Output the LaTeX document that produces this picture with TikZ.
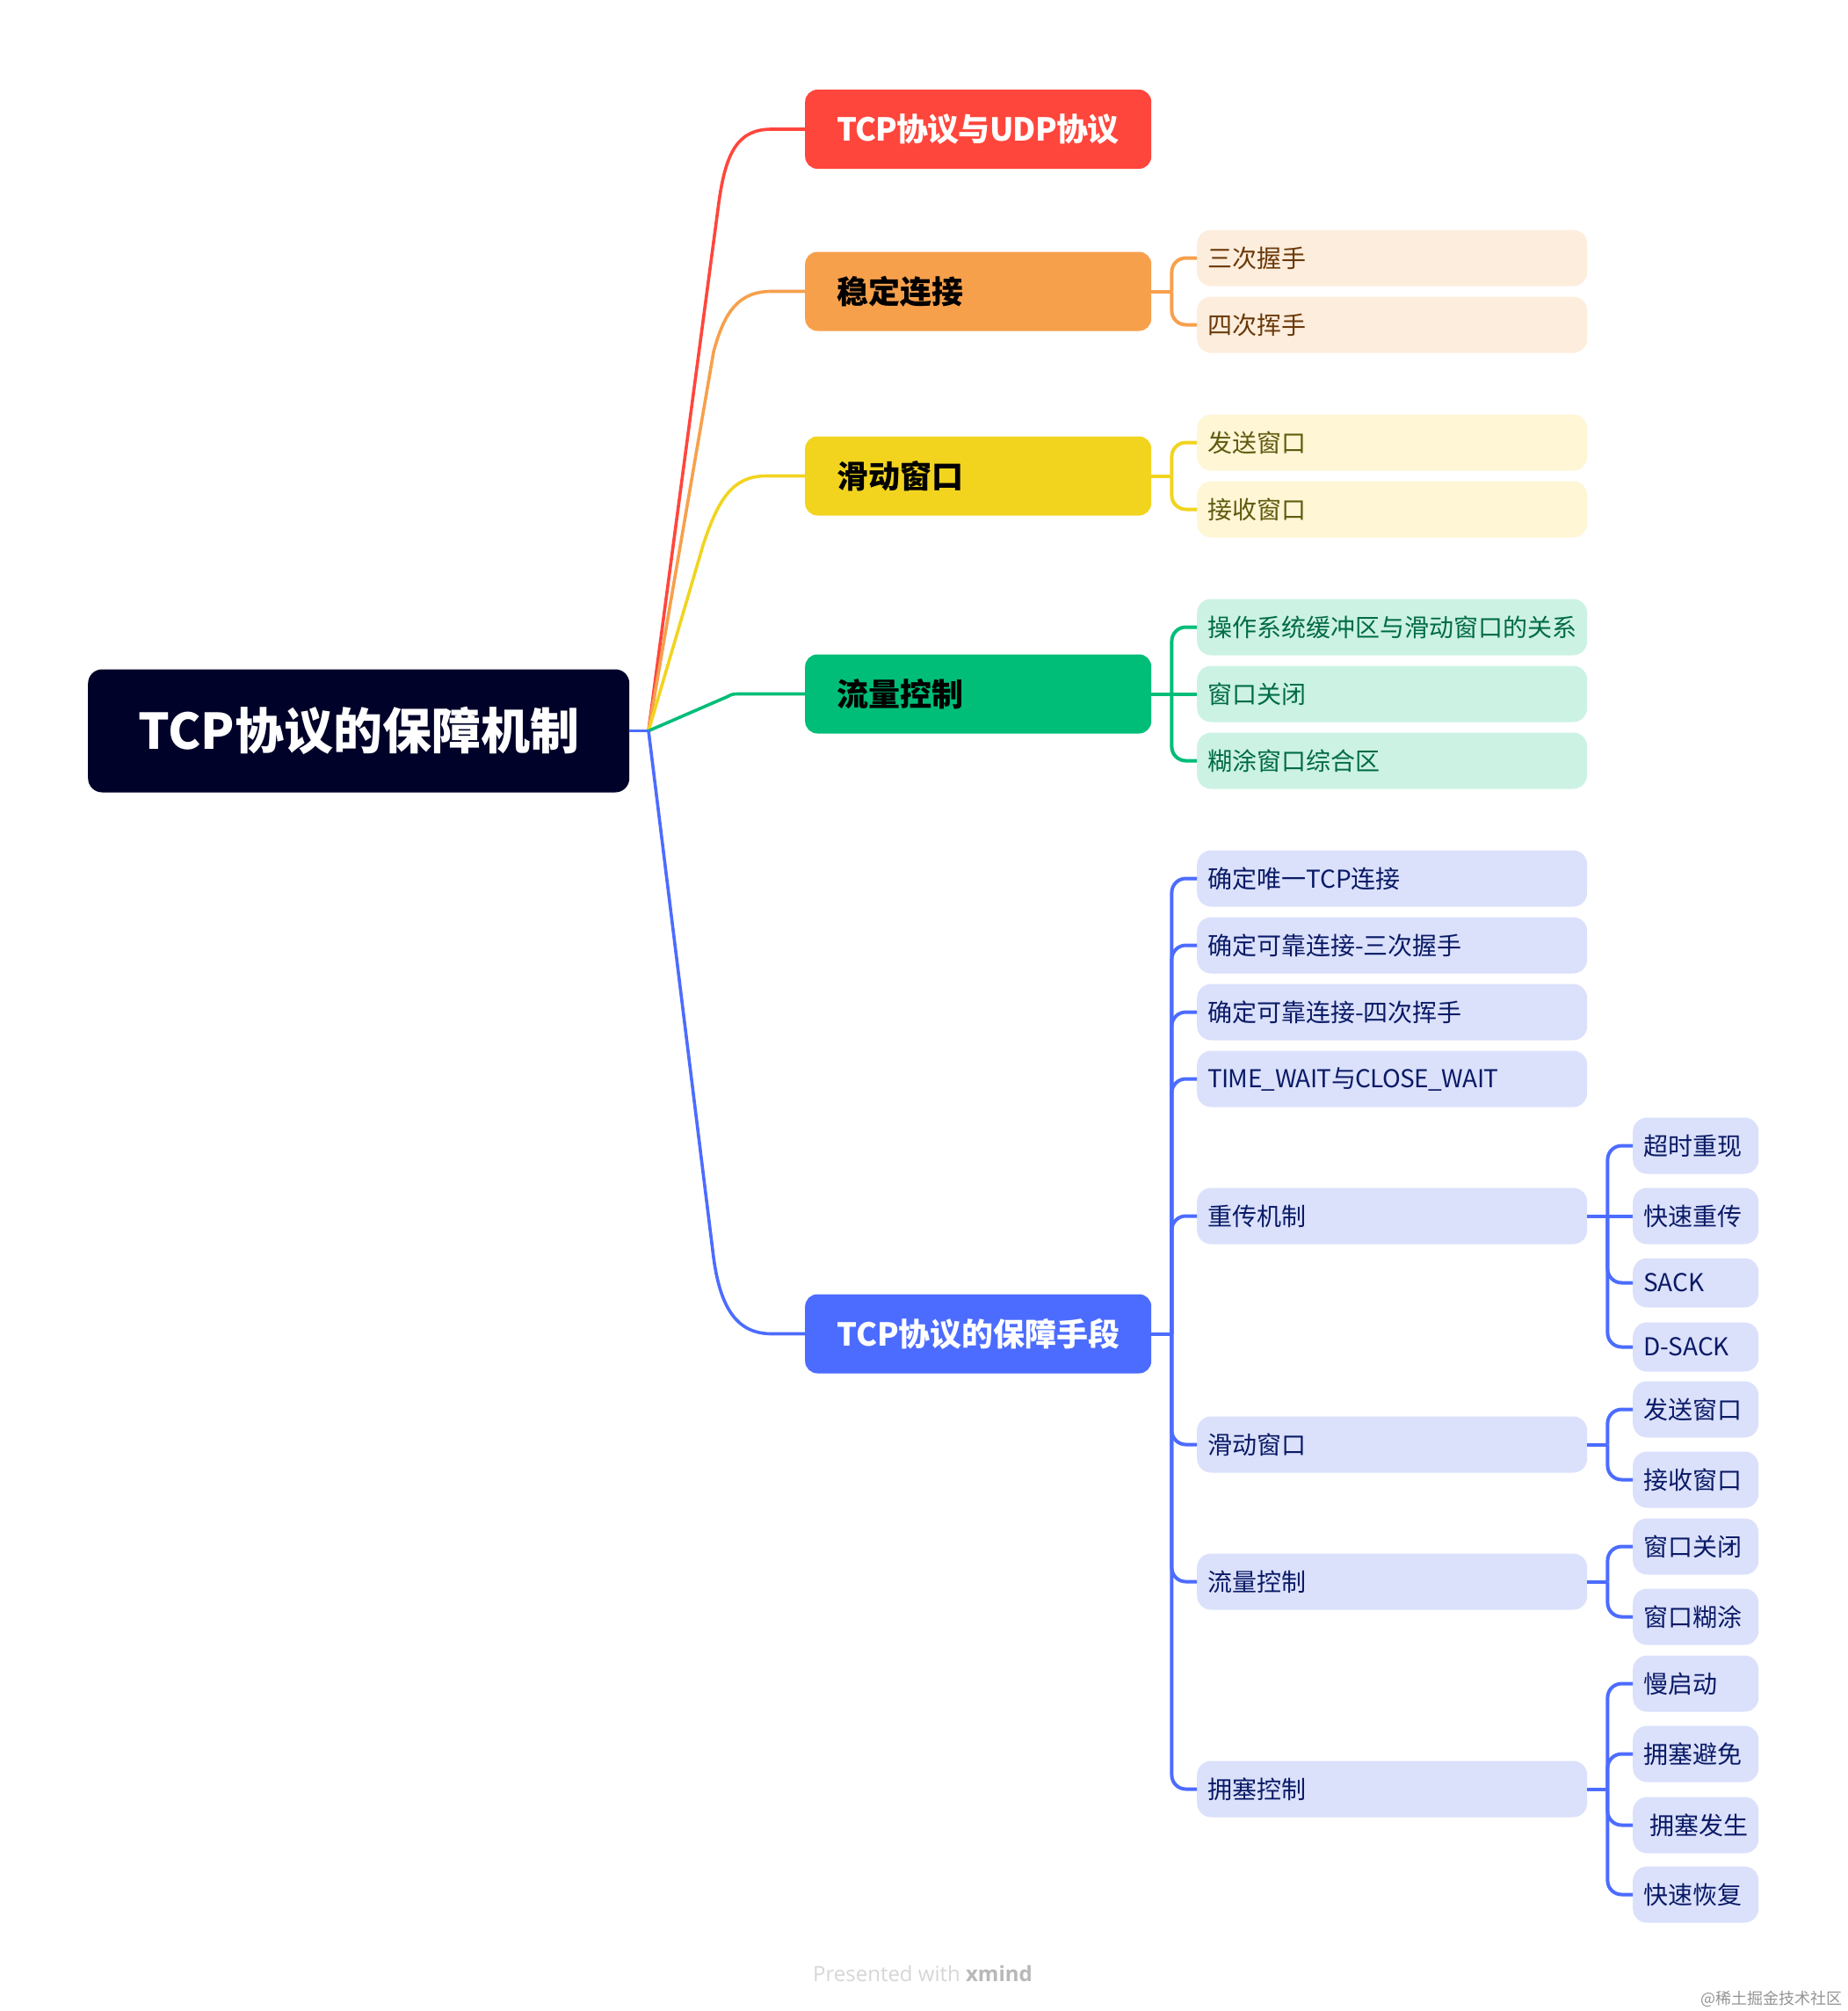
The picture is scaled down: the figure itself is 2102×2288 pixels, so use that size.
\documentclass[tikz,border=0pt]{standalone}
\usepackage{fontspec}
\usepackage{xcolor}
\setmainfont{Noto Sans CJK SC}
\newfontfamily\notefont{Open Sans}
\definecolor{rootbg}{HTML}{000229}
\definecolor{redc}{HTML}{FF463C}
\definecolor{orangec}{HTML}{F7A04C}
\definecolor{yellowc}{HTML}{F2D41F}
\definecolor{greenc}{HTML}{00BD78}
\definecolor{bluec}{HTML}{4C6CFF}
\definecolor{orangel}{HTML}{FDEDDD}
\definecolor{yellowl}{HTML}{FEF6D5}
\definecolor{greenl}{HTML}{CCF2E4}
\definecolor{bluel}{HTML}{DBE1FB}
\definecolor{oranget}{HTML}{6B3A0A}
\definecolor{yellowt}{HTML}{615A0F}
\definecolor{greent}{HTML}{006B45}
\definecolor{bluet}{HTML}{0A1A66}
\tikzset{
	rootbox/.style={fill=rootbg,text=white,rounded corners=16pt,minimum width=616pt,minimum height=140pt,anchor=west,font=\fontsize{56}{60}\selectfont\bfseries},
	mainbox/.style={rounded corners=14pt,minimum height=90pt,text width=322pt,inner xsep=36pt,inner ysep=0pt,align=left,anchor=west,font=\fontsize{36}{40}\selectfont\bfseries},
	subbox/.style={rounded corners=16pt,minimum height=64pt,text width=420pt,inner xsep=12pt,inner ysep=0pt,align=left,anchor=west,font=\fontsize{28}{32}\selectfont},
	leafbox/.style={rounded corners=16pt,minimum height=64pt,text width=119pt,inner xsep=12pt,inner ysep=0pt,align=left,anchor=west,font=\fontsize{28}{32}\selectfont},
	shortleaf/.style={leafbox,minimum height=56pt},
	orangesub/.style={fill=orangel,text=oranget},
	yellowsub/.style={fill=yellowl,text=yellowt},
	greensub/.style={fill=greenl,text=greent},
	bluesub/.style={fill=bluel,text=bluet},
	branch/.style={line width=4pt,rounded corners=16pt}
}
\begin{document}
\begin{tikzpicture}[x=1pt,y=-1pt]
	\useasboundingbox (0,-0.5) rectangle (2102,2287.5);

	\node[rootbox] (root) at (100,831) {TCP协议的保障机制};
	\coordinate (hub) at (738,831);

	\node[mainbox,fill=redc,text=white] (tcpudp) at (916,146.5) {\addfontfeature{LetterSpace=-2.2}TCP协议与UDP协议};
	\node[mainbox,fill=orangec,text=black] (stable) at (916,331) {稳定连接};
	\node[mainbox,fill=yellowc,text=black] (slide) at (916,541) {滑动窗口};
	\node[mainbox,fill=greenc,text=black] (flow) at (916,789) {流量控制};
	\node[mainbox,fill=bluec,text=white] (guard) at (916,1517) {TCP协议的保障手段};

	\node[subbox,orangesub] (shake) at (1362,293) {三次握手};
	\node[subbox,orangesub] (wave) at (1362,369) {四次挥手};

	\node[subbox,yellowsub] (send) at (1362,503) {发送窗口};
	\node[subbox,yellowsub] (recv) at (1362,579) {接收窗口};

	\node[subbox,greensub] (osbuf) at (1362,713) {操作系统缓冲区与滑动窗口的关系};
	\node[subbox,greensub] (close) at (1362,789) {窗口关闭};
	\node[subbox,greensub] (silly) at (1362,865) {糊涂窗口综合区};

	\node[subbox,bluesub] (unique) at (1362,999) {确定唯一TCP连接};
	\node[subbox,bluesub] (relyone) at (1362,1075) {确定可靠连接-三次握手};
	\node[subbox,bluesub] (relytwo) at (1362,1151) {确定可靠连接-四次挥手};
	\node[subbox,bluesub] (timewait) at (1362,1227) {\addfontfeature{LetterSpace=-2.2}TIME\_WAIT与CLOSE\_WAIT};
	\node[subbox,bluesub] (retrans) at (1362,1383) {重传机制};
	\node[subbox,bluesub] (slidetwo) at (1362,1643) {滑动窗口};
	\node[subbox,bluesub] (flowtwo) at (1362,1799) {流量控制};
	\node[subbox,bluesub] (jam) at (1362,2035) {拥塞控制};

	\node[leafbox,bluesub] (timeout) at (1858,1303) {超时重现};
	\node[leafbox,bluesub] (fastre) at (1858,1383) {快速重传};
	\node[shortleaf,bluesub] (sack) at (1858,1459) {SACK};
	\node[shortleaf,bluesub] (dsack) at (1858,1532) {D-SACK};
	\node[leafbox,bluesub] (sendtwo) at (1858,1603) {发送窗口};
	\node[leafbox,bluesub] (recvtwo) at (1858,1683) {接收窗口};
	\node[leafbox,bluesub] (closetwo) at (1858,1759) {窗口关闭};
	\node[leafbox,bluesub] (blur) at (1858,1839) {窗口糊涂};
	\node[leafbox,bluesub] (slowst) at (1858,1915) {慢启动};
	\node[leafbox,bluesub] (avoid) at (1858,1995) {拥塞避免};
	\node[leafbox,bluesub] (occur) at (1858,2076) {\hspace*{7pt}拥塞发生};
	\node[leafbox,bluesub] (recover) at (1858,2155) {快速恢复};

	\draw[line width=3.6pt,redc] (hub) -- (818,230) .. controls (826,172) and (840,146.5) .. (878,146.5) -- (tcpudp.west);
	\draw[line width=3.6pt,orangec] (hub) -- (812,400) .. controls (824,355) and (840,331) .. (878,331) -- (stable.west);
	\draw[line width=3.6pt,yellowc] (hub) -- (800,620) .. controls (818,565) and (835,541) .. (872,541) -- (slide.west);
	\draw[line width=3.6pt,greenc] (hub) -- (828,792) .. controls (833,789) and (835,789) .. (843,789) -- (flow.west);
	\draw[line width=3.6pt,bluec] (hub) -- (812,1430) .. controls (820,1490) and (840,1517) .. (878,1517) -- (guard.west);
	\draw[line width=3.6pt,bluec] (root.east) -- (hub);

	\draw[branch,orangec] (stable.east) -- ++(23,0) coordinate (stablet);
	\draw[branch,orangec] (stablet) |- (shake.west);
	\draw[branch,orangec] (stablet) |- (wave.west);

	\draw[branch,yellowc] (slide.east) -- ++(23,0) coordinate (slidet);
	\draw[branch,yellowc] (slidet) |- (send.west);
	\draw[branch,yellowc] (slidet) |- (recv.west);

	\draw[branch,greenc] (flow.east) -- (close.west);
	\draw[branch,greenc] ([xshift=23pt]flow.east) |- (osbuf.west);
	\draw[branch,greenc] ([xshift=23pt]flow.east) |- (silly.west);

	\draw[branch,bluec] (guard.east) -- ++(23,0) coordinate (guardt);
	\draw[branch,bluec] (guardt) |- (unique.west);
	\draw[branch,bluec] (guardt) |- (relyone.west);
	\draw[branch,bluec] (guardt) |- (relytwo.west);
	\draw[branch,bluec] (guardt) |- (timewait.west);
	\draw[branch,bluec] (guardt) |- (retrans.west);
	\draw[branch,bluec] (guardt) |- (slidetwo.west);
	\draw[branch,bluec] (guardt) |- (flowtwo.west);
	\draw[branch,bluec] (guardt) |- (jam.west);

	\draw[branch,bluec] (retrans.east) -- (fastre.west);
	\draw[branch,bluec] ([xshift=23pt]retrans.east) |- (timeout.west);
	\draw[branch,bluec] ([xshift=23pt]retrans.east) |- (sack.west);
	\draw[branch,bluec] ([xshift=23pt]retrans.east) |- (dsack.west);

	\draw[branch,bluec] (slidetwo.east) -- ++(23,0) coordinate (slidetwot);
	\draw[branch,bluec] (slidetwot) |- (sendtwo.west);
	\draw[branch,bluec] (slidetwot) |- (recvtwo.west);

	\draw[branch,bluec] (flowtwo.east) -- ++(23,0) coordinate (flowtwot);
	\draw[branch,bluec] (flowtwot) |- (closetwo.west);
	\draw[branch,bluec] (flowtwot) |- (blur.west);

	\draw[branch,bluec] (jam.east) -- ++(23,0) coordinate (jamt);
	\draw[branch,bluec] (jamt) |- (slowst.west);
	\draw[branch,bluec] (jamt) |- (avoid.west);
	\draw[branch,bluec] (jamt) |- (occur.west);
	\draw[branch,bluec] (jamt) |- (recover.west);

	\node[text=black!16,anchor=center,font=\notefont\fontsize{24}{28}\selectfont] (present) at (1050,2245) {Presented with \textcolor{black!28}{\textbf{xmind}}};
	\node[text=black!42,anchor=east,inner sep=0pt,font=\fontsize{18}{20}\selectfont] (mark) at (2097,2274) {@稀土掘金技术社区};
\end{tikzpicture}
\end{document}
